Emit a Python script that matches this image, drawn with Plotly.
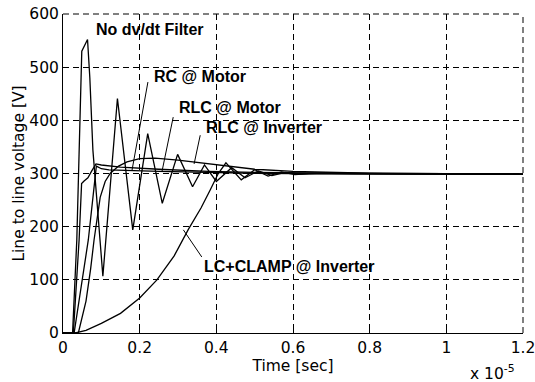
import plotly.graph_objects as go

# Time axis in units of 1e-5 s, voltages in V
t_nofilter = [0, 0.025, 0.036, 0.049, 0.064, 0.070, 0.078, 0.104, 0.142, 0.182, 0.221, 0.259,
              0.299, 0.338, 0.369, 0.400, 0.440, 0.475, 0.510, 0.545, 0.580, 0.620, 0.680,
              0.800, 1.000, 1.200]
v_nofilter = [0, 0, 175, 530, 552, 480, 344, 107, 441, 194, 375, 244,
              336, 275, 316, 285, 311, 292, 305, 296, 302, 299, 300.5,
              299.5, 299, 299]

t_rc_motor = [0, 0.027, 0.042, 0.0485, 0.055, 0.065, 0.075, 0.086, 0.100, 0.150, 0.250,
              0.380, 0.500, 0.600, 0.800, 1.000, 1.200]
v_rc_motor = [0, 0, 175, 281, 286, 292, 305, 318, 316, 312, 308,
              304, 302, 301, 300, 299.5, 299]

t_rlc_motor = [0, 0.029, 0.066, 0.087, 0.100, 0.120, 0.250, 0.380, 0.500, 0.600, 0.800, 1.200]
v_rlc_motor = [0, 0, 175, 314, 309, 307, 304, 301.5, 300.5, 300, 299.5, 299]

t_rlc_inv = [0, 0.040, 0.060, 0.072, 0.081, 0.090, 0.097, 0.110, 0.123, 0.145, 0.167, 0.200,
             0.240, 0.300, 0.360, 0.430, 0.500, 0.600, 0.700, 0.800, 1.000, 1.200]
v_rlc_inv = [0, 0, 60, 120, 175, 225, 255, 285, 300, 314, 322, 328,
             329, 325, 320, 313, 308, 304, 302, 300.5, 299.5, 299]

t_lc_clamp = [0, 0.032, 0.060, 0.100, 0.150, 0.200, 0.245, 0.290, 0.327, 0.360, 0.384, 0.405,
              0.425, 0.465, 0.500, 0.535, 0.570, 0.605, 0.650, 0.750, 1.000, 1.200]
v_lc_clamp = [0, 0, 5, 18, 37, 66, 100, 145, 195, 235, 269, 300,
              320, 288, 307, 295, 303, 298, 300.5, 299.5, 299, 299]

x_ticks = [0, 0.2, 0.4, 0.6, 0.8, 1.0, 1.2]
x_ticktext = ["0", "0.2", "0.4", "0.6", "0.8", "1", "1.2"]
y_ticks = [0, 100, 200, 300, 400, 500, 600]

# Curve labels: text, left x, centre y
label_text = ["No dv/dt Filter", "RC @ Motor", "RLC @ Motor", "RLC @ Inverter",
              "LC+CLAMP @ Inverter"]
label_x = [0.080, 0.232, 0.297, 0.367, 0.362]
label_y = [571, 483, 425, 386, 125]

# Leader lines from label to curve: (x0, y0) -> (x1, y1)
leader_x0 = [0.2215, 0.2875, 0.358, 0.362]
leader_y0 = [472, 406, 372, 143]
leader_x1 = [0.180, 0.258, 0.342, 0.314]
leader_y1 = [306, 303, 318, 194]

fig = go.Figure()

series = [
    (t_nofilter, v_nofilter),
    (t_rc_motor, v_rc_motor),
    (t_rlc_motor, v_rlc_motor),
    (t_rlc_inv, v_rlc_inv),
    (t_lc_clamp, v_lc_clamp),
]
for t, v in series:
    fig.add_trace(go.Scatter(x=t, y=v, mode="lines",
                             line=dict(color="black", width=1.3),
                             showlegend=False, hoverinfo="skip"))

bold_font = dict(family="Arial, Liberation Sans, sans-serif", size=16, color="black",
                 weight="bold")
for txt, lx, ly in zip(label_text, label_x, label_y):
    fig.add_annotation(x=lx, y=ly, xref="x", yref="y", text=txt, showarrow=False,
                       xanchor="left", yanchor="middle", font=bold_font)

for x0, y0, x1, y1 in zip(leader_x0, leader_y0, leader_x1, leader_y1):
    fig.add_shape(type="line", xref="x", yref="y", x0=x0, y0=y0, x1=x1, y1=y1,
                  line=dict(color="black", width=1))

grid_dash = "6px,4px"
# Dashed grid along the top and right edges of the plotting area
fig.add_shape(type="line", xref="paper", yref="paper", x0=0, x1=1, y0=1, y1=1,
              line=dict(color="black", width=1, dash=grid_dash))
fig.add_shape(type="line", xref="paper", yref="paper", x0=1, x1=1, y0=0, y1=1,
              line=dict(color="black", width=1, dash=grid_dash))

reg_font = dict(family="DejaVu Sans, sans-serif", size=15.5, color="black")

fig.add_annotation(x=0.880, y=-0.125, xref="paper", yref="paper",
                   text="x 10<sup>-5</sup>", showarrow=False,
                   xanchor="left", yanchor="middle", font=reg_font)

axis_common = dict(
    showgrid=True, gridcolor="black", gridwidth=1, griddash=grid_dash,
    showline=True, linecolor="black", linewidth=1,
    ticks="inside", ticklen=5, tickcolor="black",
    zeroline=False, tickfont=reg_font, automargin=False,
    ticklabeloverflow="allow",
)

fig.update_xaxes(range=[0, 1.2], tickmode="array", tickvals=x_ticks, ticktext=x_ticktext,
                 title=dict(text="Time [sec]", font=reg_font, standoff=4), **axis_common)
fig.update_yaxes(range=[0, 600], tickmode="array", tickvals=y_ticks,
                 title=dict(text="Line to line voltage [V]", font=reg_font, standoff=0),
                 **axis_common)

fig.update_layout(
    width=535, height=382,
    margin=dict(l=63, r=12, t=14, b=49),
    paper_bgcolor="white", plot_bgcolor="white",
)

fig.write_html("out.html")
